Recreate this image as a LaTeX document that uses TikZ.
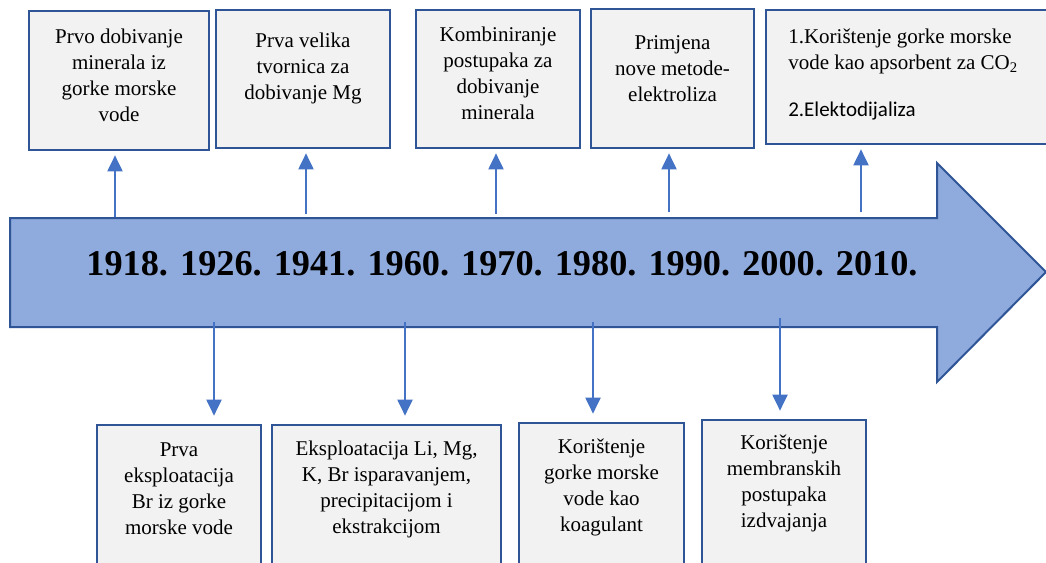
\documentclass[tikz,border=0pt]{standalone}
\usepackage{fontspec}
\setmainfont{Liberation Serif}
\newfontfamily\calibfont{Carlito}
\usetikzlibrary{arrows.meta,fit}
\definecolor{boxborder}{HTML}{2F5597}
\definecolor{boxfill}{HTML}{F2F2F2}
\definecolor{connblue}{HTML}{4472C4}
\definecolor{arrowfill}{HTML}{8FAADC}
\definecolor{arrowborder}{HTML}{2F5597}
\begin{document}
\begin{tikzpicture}[x=0.75pt,y=-0.75pt,
  evbox/.style={draw=boxborder,fill=boxfill,line width=2pt,inner sep=0pt},
  evtext/.style={align=center,font=\fontsize{15.75pt}{19.5pt}\selectfont,inner sep=0pt,text=black},
  connup/.style={draw=connblue,line width=1.5pt,-{Triangle[width=11.25pt,length=12pt]},shorten >=3pt},
  conndown/.style={draw=connblue,line width=1.5pt,-{Triangle[width=11.25pt,length=12pt]},shorten >=6pt}]
\useasboundingbox (0,0) rectangle (1046,562);
\fill[white] (0,0) rectangle (1046,562);

% timeline arrow
\draw[fill=arrowfill,draw=arrowborder,line width=1.5pt]
  (10,218) -- (937,218) -- (937,163) -- (1046,272) -- (937,382) -- (937,327) -- (10,327) -- cycle;
\node[font=\fontsize{27.2pt}{30pt}\selectfont\bfseries,anchor=base,inner sep=0pt] (years) at (502,275)
  {1918. 1926. 1941. 1960. 1970. 1980. 1990. 2000. 2010.};

% top boxes
\node[evbox,fit={(29,11)(209,150)}] (b1) {};
\node[evbox,fit={(216,10)(390,148)}] (b2) {};
\node[evbox,fit={(416,10)(580,148)}] (b3) {};
\node[evbox,fit={(591,9)(754,148)}] (b4) {};
\node[evbox,fit={(766,10)(1060,144)}] (b5) {};

\node[evtext] (t1) at (119,75) {Prvo dobivanje\\minerala iz\\gorke morske\\vode};
\node[evtext] (t2) at (303,68.5) {Prva velika\\tvornica za\\dobivanje Mg};
\node[evtext] (t3) at (498,73.5) {Kombiniranje\\postupaka za\\dobivanje\\minerala};
\node[evtext] (t4) at (672.5,68.5) {Primjena\\nove metode-\\elektroliza};
\node[evtext,align=left,anchor=north west] (t5) at (788,28.5)
  {1.Korištenje gorke morske\\vode kao apsorbent za CO\textsubscript{2}\\[15.5pt]{\calibfont 2.Elektodijaliza}};

% bottom boxes
\node[evbox,fit={(97,425)(261,575)}] (c1) {};
\node[evbox,fit={(272,425)(501,575)}] (c2) {};
\node[evbox,fit={(519,423)(684,575)}] (c3) {};
\node[evbox,fit={(702,420)(866,575)}] (c4) {};

\node[evtext] (s1) at (179,489) {Prva\\eksploatacija\\Br iz gorke\\morske vode};
\node[evtext] (s2) at (386.5,489) {Eksploatacija Li, Mg,\\K, Br isparavanjem,\\precipitacijom i\\ekstrakcijom};
\node[evtext] (s3) at (601.5,487) {Korištenje\\gorke morske\\vode kao\\koagulant};
\node[evtext] (s4) at (784,483.5) {Korištenje\\membranskih\\postupaka\\izdvajanja};

% connectors
\coordinate (u1) at (115,217);
\coordinate (u2) at (306,214);
\coordinate (u3) at (496,214);
\coordinate (u4) at (669,212);
\coordinate (u5) at (861,212);
\draw[connup] (u1) -- (u1 |- b1.south);
\draw[connup] (u2) -- (u2 |- b2.south);
\draw[connup] (u3) -- (u3 |- b3.south);
\draw[connup] (u4) -- (u4 |- b4.south);
\draw[connup] (u5) -- (u5 |- b5.south);

\coordinate (d1) at (214,322);
\coordinate (d2) at (405,322);
\coordinate (d3) at (593,322);
\coordinate (d4) at (780,318);
\draw[conndown] (d1) -- (d1 |- c1.north);
\draw[conndown] (d2) -- (d2 |- c2.north);
\draw[conndown] (d3) -- (d3 |- c3.north);
\draw[conndown] (d4) -- (d4 |- c4.north);
\end{tikzpicture}
\end{document}
